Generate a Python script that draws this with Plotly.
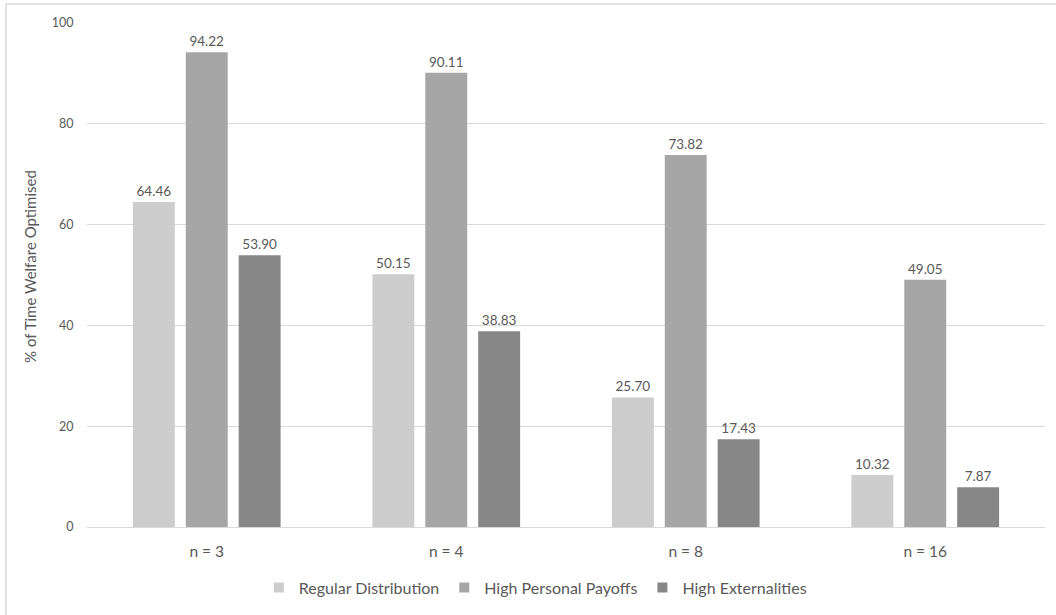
import plotly.graph_objects as go

categories = ["n = 3", "n = 4", "n = 8", "n = 16"]
regular = [64.46, 50.15, 25.70, 10.32]
high_personal = [94.22, 90.11, 73.82, 49.05]
high_external = [53.90, 38.83, 17.43, 7.87]

series = [
    ("Regular Distribution", regular, "#cdcdcd"),
    ("High Personal Payoffs", high_personal, "#a6a6a6"),
    ("High Externalities", high_external, "#878787"),
]

TEXT = "#595959"
FONT = "Lato, 'Open Sans', sans-serif"

fig = go.Figure()
for name, vals, color in series:
    fig.add_trace(go.Bar(
        name=name,
        x=categories,
        y=vals,
        marker=dict(color=color, line=dict(width=0)),
        text=[f"{v:.2f}" for v in vals],
        textposition="outside",
        textfont=dict(size=13.5, color=TEXT, family=FONT),
        cliponaxis=False,
        showlegend=False,
    ))

# small square legend keys
for name, _, color in series:
    fig.add_trace(go.Scatter(
        name=name,
        x=[None], y=[None],
        mode="markers",
        marker=dict(symbol="square", size=10, color=color),
        showlegend=True,
    ))

fig.update_layout(
    width=1056,
    height=615,
    margin=dict(l=87, r=11, t=23, b=86),
    paper_bgcolor="white",
    plot_bgcolor="white",
    font=dict(family=FONT, color=TEXT),
    barmode="group",
    bargap=0.3375,
    bargroupgap=0.2075,
    showlegend=True,
    legend=dict(
        orientation="h",
        x=0.468, xanchor="center",
        y=-0.12, yanchor="middle",
        font=dict(size=16, color=TEXT),
        itemwidth=30,
        tracegroupgap=0,
        traceorder="normal",
    ),
    xaxis=dict(
        showgrid=False,
        showline=False,
        ticks="outside",
        ticklen=10,
        tickcolor="rgba(0,0,0,0)",
        tickfont=dict(size=15.5, color=TEXT),
    ),
    yaxis=dict(
        range=[0, 100],
        dtick=20,
        showgrid=True,
        gridcolor="#d9d9d9",
        gridwidth=1,
        zeroline=True,
        zerolinecolor="#d9d9d9",
        zerolinewidth=1,
        showline=False,
        ticks="outside",
        ticklen=10,
        tickcolor="rgba(0,0,0,0)",
        tickfont=dict(size=12.5, color=TEXT),
    ),
    annotations=[
        dict(text="% of Time Welfare Optimised", textangle=-90,
             xref="paper", yref="paper", x=-0.0595, y=0.518,
             xanchor="center", yanchor="middle", showarrow=False,
             font=dict(size=15, color=TEXT, family=FONT)),
    ],
    shapes=[
        dict(type="rect", xref="paper", yref="paper",
             x0=-0.0846, x1=1.02, y0=-0.2, y1=1.0375,
             line=dict(color="#d9d9d9", width=1.5), fillcolor="rgba(0,0,0,0)",
             layer="below"),
    ],
)

fig.write_html("out.html")
